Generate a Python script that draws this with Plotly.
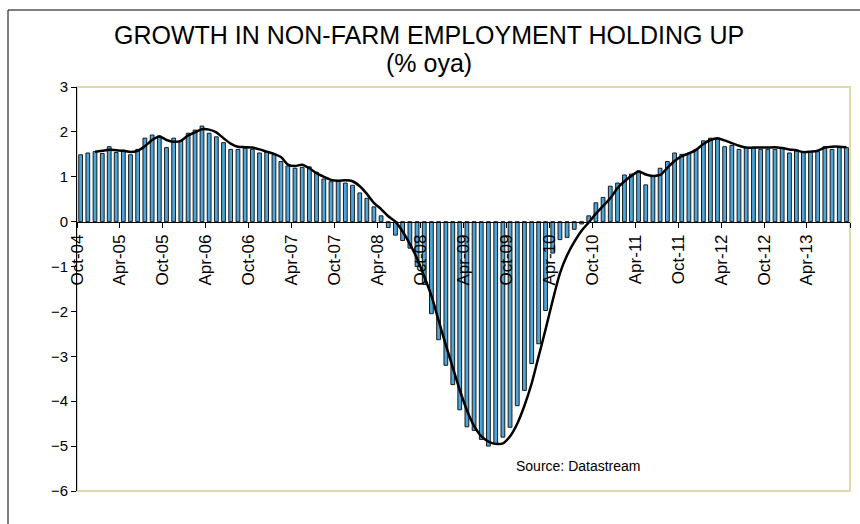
import pandas as pd
import plotly.graph_objects as go

# Monthly observations, Oct-2004 .. Sep-2013
months = pd.date_range("2004-10-01", periods=108, freq="MS")

bar_values = [
    1.49, 1.53, 1.56, 1.52, 1.67, 1.54, 1.59, 1.49, 1.61, 1.86,
    1.93, 1.91, 1.65, 1.86, 1.80, 1.97, 2.04, 2.13, 1.97, 1.89,
    1.76, 1.61, 1.61, 1.64, 1.61, 1.53, 1.55, 1.49, 1.34, 1.24,
    1.19, 1.21, 1.22, 1.10, 0.95, 0.89, 0.91, 0.86, 0.81, 0.64,
    0.52, 0.33, 0.13, -0.13, -0.30, -0.42, -0.59, -1.00, -1.40, -2.05,
    -2.63, -3.20, -3.63, -4.19, -4.57, -4.65, -4.85, -5.00, -4.96, -4.80,
    -4.58, -4.10, -3.76, -3.16, -2.72, -1.98, -0.70, -0.40, -0.35, -0.17,
    -0.05, 0.13, 0.42, 0.54, 0.79, 0.86, 1.04, 1.06, 1.13, 0.82,
    1.01, 1.19, 1.34, 1.53, 1.50, 1.53, 1.61, 1.80, 1.86, 1.84,
    1.67, 1.70, 1.61, 1.65, 1.65, 1.61, 1.61, 1.61, 1.65, 1.53,
    1.58, 1.54, 1.56, 1.56, 1.67, 1.61, 1.65, 1.65,
]

line_values = [
    None, None, 1.56, 1.58, 1.60, 1.59, 1.58, 1.55, 1.58, 1.68,
    1.82, 1.90, 1.82, 1.78, 1.80, 1.92, 1.99, 2.06, 2.05, 1.99,
    1.86, 1.74, 1.67, 1.66, 1.65, 1.61, 1.56, 1.51, 1.44, 1.27,
    1.24, 1.27, 1.19, 1.08, 1.00, 0.93, 0.91, 0.92, 0.90, 0.79,
    0.62, 0.42, 0.28, 0.12, 0.00, -0.22, -0.50, -0.82, -1.22, -1.65,
    -2.20, -2.75, -3.25, -3.75, -4.20, -4.55, -4.78, -4.90, -4.95, -4.94,
    -4.78, -4.50, -4.10, -3.60, -3.00, -2.40, -1.75, -1.15, -0.75, -0.45,
    -0.20, -0.02, 0.18, 0.35, 0.52, 0.75, 0.90, 1.02, 1.12, 1.05,
    1.02, 1.04, 1.20, 1.35, 1.46, 1.52, 1.60, 1.73, 1.82, 1.86,
    1.81, 1.75, 1.69, 1.65, 1.65, 1.65, 1.65, 1.66, 1.64, 1.61,
    1.59, 1.55, 1.56, 1.58, 1.65, 1.67, 1.67, 1.66,
]

tick_dates = [
    "2004-10-01", "2005-04-01", "2005-10-01", "2006-04-01", "2006-10-01",
    "2007-04-01", "2007-10-01", "2008-04-01", "2008-10-01", "2009-04-01",
    "2009-10-01", "2010-04-01", "2010-10-01", "2011-04-01", "2011-10-01",
    "2012-04-01", "2012-10-01", "2013-04-01", "2013-10-01",
]
tick_labels = [
    "Oct-04", "Apr-05", "Oct-05", "Apr-06", "Oct-06", "Apr-07", "Oct-07",
    "Apr-08", "Oct-08", "Apr-09", "Oct-09", "Apr-10", "Oct-10", "Apr-11",
    "Oct-11", "Apr-12", "Oct-12", "Apr-13", "",
]
y_ticks = [-6, -5, -4, -3, -2, -1, 0, 1, 2, 3]

title_line1 = "GROWTH IN NON-FARM EMPLOYMENT HOLDING UP"
title_line2 = "(% oya)"
source_text = "Source: Datastream"

FONT = "Liberation Sans, Arial, sans-serif"
W, H = 860, 524
ML, MR, MT, MB = 77, 10, 87, 33
PW, PH = W - ML - MR, H - MT - MB


def px_x(x):
    return (x - ML) / PW


def px_y(y):
    return (H - MB - y) / PH


fig = go.Figure()
fig.add_trace(go.Bar(
    x=months, y=bar_values,
    xperiod="M1", xperiodalignment="middle",
    width=16 * 86400000,
    marker=dict(color="#4ba7db", line=dict(color="#1a1a1a", width=1)),
    showlegend=False,
))
fig.add_trace(go.Scatter(
    x=months, y=line_values,
    xperiod="M1", xperiodalignment="middle",
    mode="lines",
    line=dict(color="#000000", width=2.5, shape="spline", smoothing=0.8),
    connectgaps=False,
    showlegend=False,
))

fig.update_layout(
    width=W, height=H,
    margin=dict(l=ML, r=MR, t=MT, b=MB),
    paper_bgcolor="white", plot_bgcolor="white",
    font=dict(family=FONT, color="#000000"),
    hovermode=False,
    xaxis=dict(
        type="date",
        range=["2004-10-01", "2013-10-01"],
        tickmode="array", tickvals=tick_dates, ticktext=tick_labels,
        tickangle=-90, ticks="outside", ticklen=5, tickcolor="#000000",
        tickfont=dict(size=17, family=FONT, color="#000000"),
        showline=True, linecolor="#000000", linewidth=1,
        showgrid=False, zeroline=False,
        anchor="free", position=6 / 9,
    ),
    yaxis=dict(
        range=[-6, 3], domain=[0, 1],
        tickmode="array", tickvals=y_ticks,
        ticks="outside", ticklen=5, tickcolor="#000000",
        tickfont=dict(size=15, family=FONT, color="#000000"),
        showline=True, linecolor="#000000", linewidth=1,
        showgrid=False, zeroline=False,
    ),
    shapes=[
        dict(type="rect", xref="paper", yref="paper", x0=0, x1=1, y0=0, y1=1,
             line=dict(color="#dedba8", width=2), layer="below"),
        dict(type="rect", xref="paper", yref="paper",
             x0=px_x(8), x1=px_x(900), y0=px_y(600), y1=px_y(10),
             line=dict(color="#000000", width=1), layer="below"),
    ],
    annotations=[
        dict(text=title_line1, xref="paper", yref="paper",
             x=px_x(429), y=px_y(35), xanchor="center", yanchor="middle",
             showarrow=False, font=dict(size=25, family=FONT, color="#000000")),
        dict(text=title_line2, xref="paper", yref="paper",
             x=px_x(429), y=px_y(63), xanchor="center", yanchor="middle",
             showarrow=False, font=dict(size=25, family=FONT, color="#000000")),
        dict(text=source_text, xref="paper", yref="paper",
             x=px_x(578), y=px_y(466), xanchor="center", yanchor="middle",
             showarrow=False, font=dict(size=14, family=FONT, color="#000000")),
    ],
)

fig.write_html(
    "out.html",
    config={"displayModeBar": False, "staticPlot": True},
    post_script="document.body.style.margin='0';document.body.style.overflow='hidden';",
)
